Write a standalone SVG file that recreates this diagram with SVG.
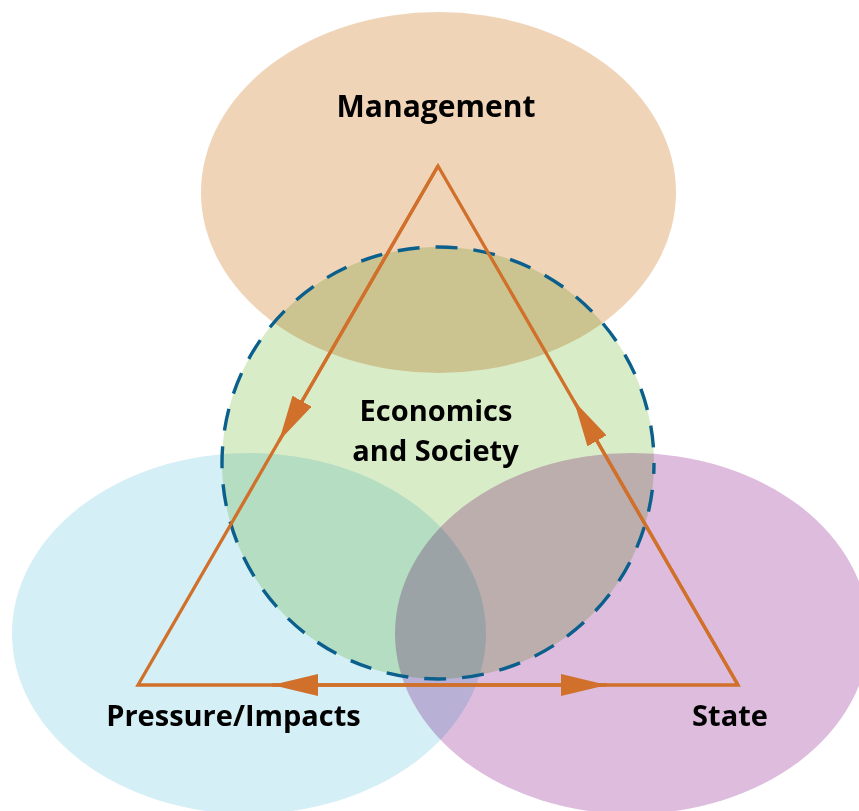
<svg xmlns="http://www.w3.org/2000/svg" xmlns:xlink="http://www.w3.org/1999/xlink" width="859" height="811" viewBox="0 0 859 811">
  <style>
    .fill { mix-blend-mode: multiply; stroke: none; }
    .label { font-family: "Open Sans", "Noto Sans", "Liberation Sans", sans-serif; font-weight: bold; font-size: 29px; fill: #000; text-anchor: middle; }
    .big { font-size: 30px; }
    .edge { fill: none; stroke: #d0702a; stroke-width: 3.3; stroke-linejoin: miter; stroke-miterlimit: 10; }
    .dash { fill: none; stroke: #0b5f8c; stroke-width: 3.4; stroke-dasharray: 22 16; stroke-dashoffset: 11; }
  </style>
  <defs>
    <marker id="arrow" markerUnits="userSpaceOnUse" markerWidth="46" markerHeight="22" refX="46" refY="11" orient="auto" viewBox="0 0 46 22">
      <path d="M0,0 L46,11 L0,22 z" fill="#d0702a"/>
    </marker>
  </defs>
  <rect x="0" y="0" width="859" height="811" fill="#ffffff"/>

  <g id="node-pressure">
    <ellipse class="fill" cx="249" cy="633.5" rx="237" ry="180.5" fill="#d5eff6"/>
    <text class="label" x="233.5" y="726">Pressure/Impacts</text>
  </g>

  <g id="node-state">
    <ellipse class="fill" cx="632" cy="633.5" rx="237" ry="180.5" fill="#ddbcdd"/>
    <text class="label" x="730" y="726">State</text>
  </g>

  <g id="node-management">
    <ellipse class="fill" cx="438.5" cy="192.5" rx="237.5" ry="180.5" fill="#f0d4b8"/>
    <text class="label big" x="436" y="117">Management</text>
  </g>

  <g id="node-economics">
    <circle class="fill" cx="438" cy="463" r="216" fill="#d9ecc8"/>
    <circle class="dash" cx="438" cy="463" r="216"/>
    <text class="label" x="436" y="421">Economics</text>
    <text class="label" x="435.5" y="461">and Society</text>
  </g>

  <g id="connectors">
    <polygon class="edge" points="438,166 138,685 738,685"/>
    <path class="edge" d="M438,166 L279,441" marker-end="url(#arrow)"/>
    <path class="edge" d="M738,685 L574,401" marker-end="url(#arrow)"/>
    <path class="edge" d="M440,685 L272,685" marker-end="url(#arrow)"/>
    <path class="edge" d="M440,685 L607,685" marker-end="url(#arrow)"/>
  </g>
</svg>
